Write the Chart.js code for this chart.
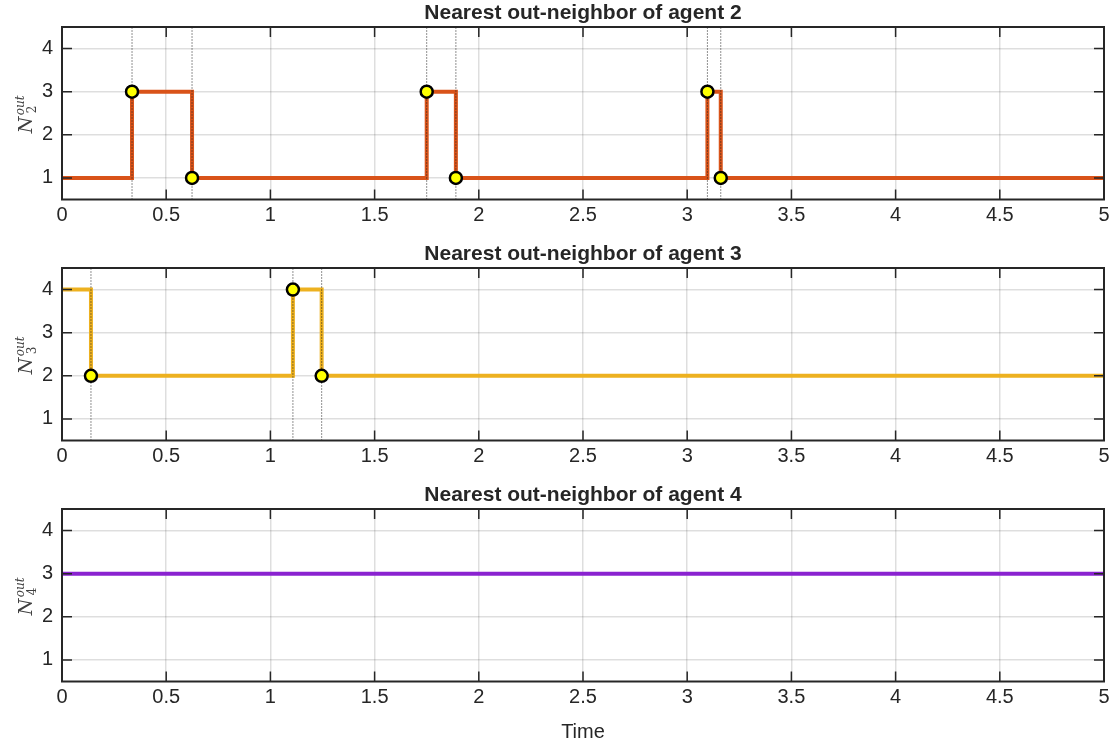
<!DOCTYPE html>
<html><head><meta charset="utf-8">
<script src="https://cdn.jsdelivr.net/npm/chart.js@4.4.1/dist/chart.umd.min.js"></script>
<style>
html,body{margin:0;padding:0;background:#fff;}
#wrap{position:relative;width:1116px;height:744px;}
#wrap canvas{position:absolute;left:0;}
</style></head><body>
<div id="wrap">
<canvas id="c0" width="1116" height="241" style="top:0"></canvas>
<canvas id="c1" width="1116" height="241" style="top:241px"></canvas>
<canvas id="c2" width="1116" height="262" style="top:482px"></canvas>
</div>
<script>
// Data
const xTicks = [0, 0.5, 1, 1.5, 2, 2.5, 3, 3.5, 4, 4.5, 5];
const yTicks = [1, 2, 3, 4];
const agents = [2, 3, 4];
const startValues = [1, 4, 3];
const switchTimes2 = [0.336, 0.624, 1.75, 1.89, 3.097, 3.161];
const switchValues2 = [3, 1, 3, 1, 3, 1];
const switchTimes3 = [0.139, 1.108, 1.246];
const switchValues3 = [2, 4, 2];
const switchTimes4 = [];
const switchValues4 = [];
const colors = ['#D95319', '#EDB120', '#8A22D0'];

const switches = [[switchTimes2, switchValues2], [switchTimes3, switchValues3], [switchTimes4, switchValues4]];
const INK = '#262626', GRID = 'rgba(0,0,0,0.13)', FONT = '"Liberation Sans", Arial, sans-serif';

// Box, inward ticks, panel title and the N^out_i y label (MATLAB look).
const frame = {
    id: 'frame',
    afterDatasetsDraw(chart, args, o) {
        const { ctx, chartArea: a, scales: { x, y } } = chart, TL = 10;
        ctx.save();
        ctx.strokeStyle = INK; ctx.lineWidth = 1.5; ctx.beginPath();
        xTicks.forEach(v => { const p = x.getPixelForValue(v); ctx.moveTo(p, a.top); ctx.lineTo(p, a.top + TL); ctx.moveTo(p, a.bottom); ctx.lineTo(p, a.bottom - TL); });
        yTicks.forEach(v => { const p = y.getPixelForValue(v); ctx.moveTo(a.left, p); ctx.lineTo(a.left + TL, p); ctx.moveTo(a.right, p); ctx.lineTo(a.right - TL, p); });
        ctx.stroke();
        ctx.lineWidth = 2; ctx.strokeRect(a.left, a.top, a.width, a.height);
        ctx.fillStyle = INK; ctx.font = 'bold 21px ' + FONT; ctx.textAlign = 'center'; ctx.textBaseline = 'middle';
        ctx.fillText('Nearest out-neighbor of agent ' + o.agent, (a.left + a.right) / 2, a.top - 14);
        // rotated y label
        ctx.translate(32, (a.top + a.bottom) / 2 + 20); ctx.rotate(-Math.PI / 2);
        ctx.fillStyle = '#404040'; ctx.textAlign = 'left'; ctx.textBaseline = 'alphabetic';
        ctx.font = 'italic 19px "DejaVu Serif", serif'; ctx.fillText('N', 0, 0);
        ctx.font = 'italic 12px "DejaVu Serif", serif'; ctx.fillText('out', 18, -8);
        ctx.font = '12px "DejaVu Serif", serif'; ctx.fillText(String(o.agent), 20, 4);
        ctx.restore();
    },
};

agents.forEach((agent, i) => {
    const [times, vals] = switches[i];
    const last = vals.length ? vals[vals.length - 1] : startValues[i];
    const step = [{ x: 0, y: startValues[i] }, ...times.map((t, k) => ({ x: t, y: vals[k] })), { x: 5, y: last }];
    const marks = times.map((t, k) => ({ x: t, y: vals[k] }));
    const dotted = times.map(t => ({
        data: [{ x: t, y: 0.5 }, { x: t, y: 4.5 }], borderColor: '#222', borderWidth: 1, borderDash: [1, 2],
        pointRadius: 0, order: 2,
    }));
    const isLast = i === agents.length - 1;
    new Chart(document.getElementById('c' + i), {
        type: 'line',
        data: {
            datasets: [
                { data: marks, showLine: false, pointRadius: 6, pointBackgroundColor: '#FFFF00', pointBorderColor: '#000', pointBorderWidth: 2.5, order: 1 },
                ...dotted,
                { data: step, stepped: 'before', borderColor: colors[i], borderWidth: 4, pointRadius: 0, order: 3 },
            ],
        },
        options: {
            responsive: false, animation: false, devicePixelRatio: 1,
            layout: { padding: { top: 27, right: 12, left: 0, bottom: 0 } },
            plugins: { legend: { display: false }, tooltip: { enabled: false }, frame: { agent } },
            scales: {
                x: {
                    type: 'linear', min: 0, max: 5,
                    afterBuildTicks: s => { s.ticks = xTicks.map(value => ({ value })); },
                    afterFit: s => { s.height = isLast ? 62.5 : 41.5; },
                    grid: { color: GRID, lineWidth: 1.5, drawTicks: false }, border: { display: false },
                    ticks: { padding: 4, color: INK, font: { family: FONT, size: 20 }, maxRotation: 0, autoSkip: false, callback: v => String(v) },
                    title: { display: isLast, text: 'Time', color: INK, font: { family: FONT, size: 20 }, padding: { top: 0, bottom: 0 } },
                },
                y: {
                    min: 0.5, max: 4.5,
                    afterBuildTicks: s => { s.ticks = yTicks.map(value => ({ value })); },
                    afterFit: s => { s.width = 62; },
                    grid: { color: GRID, lineWidth: 1.5, drawTicks: false }, border: { display: false },
                    ticks: { padding: 9, color: INK, font: { family: FONT, size: 20 }, callback: v => String(v) },
                },
            },
        },
        plugins: [frame],
    });
});
</script>
</body></html>
